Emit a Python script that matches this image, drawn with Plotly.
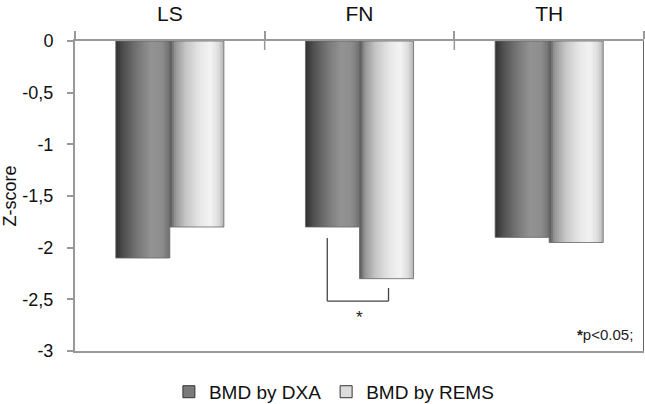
import plotly.graph_objects as go

# ---- data ----
categories = ["LS", "FN", "TH"]
dxa_values = [-2.10, -1.80, -1.90]
rems_values = [-1.80, -2.30, -1.95]
series_names = ["BMD by DXA", "BMD by REMS"]
y_tickvals = [0, -0.5, -1, -1.5, -2, -2.5, -3]
y_ticktext = ["0", "-0,5", "-1", "-1,5", "-2", "-2,5", "-3"]

# ---- styling helpers ----
BAR_W = 0.285
N_SLICES = 27

dxa_stops = [(0.0, 0x30), (0.15, 0x50), (0.4, 0x76), (0.65, 0x93), (0.85, 0x8e), (1.0, 0x70)]
rems_stops = [(0.0, 0x55), (0.1, 0x96), (0.3, 0xc6), (0.55, 0xe6), (0.75, 0xf3), (0.9, 0xdc), (1.0, 0xb2)]


def grey_at(stops, t):
    for (t0, v0), (t1, v1) in zip(stops[:-1], stops[1:]):
        if t0 <= t <= t1:
            v = v0 + (v1 - v0) * (t - t0) / (t1 - t0)
            v = int(round(v))
            return f"rgb({v},{v},{v})"
    v = stops[-1][1]
    return f"rgb({v},{v},{v})"


fig = go.Figure()

for values, stops, start in [(dxa_values, dxa_stops, -BAR_W), (rems_values, rems_stops, 0.0)]:
    sw = BAR_W / N_SLICES
    for i in range(N_SLICES):
        t = (i + 0.5) / N_SLICES
        w = sw * 1.6 if i < N_SLICES - 1 else sw
        fig.add_trace(go.Bar(
            x=categories, y=values,
            offset=start + i * sw, width=w,
            marker=dict(color=grey_at(stops, t), line=dict(width=0)),
            showlegend=False, hoverinfo="skip",
        ))
    # outline
    fig.add_trace(go.Bar(
        x=categories, y=values, offset=start, width=BAR_W,
        marker=dict(color="rgba(0,0,0,0)", line=dict(color="#666", width=0.8)),
        showlegend=False, hoverinfo="skip",
    ))

# legend-only traces
for name, col in zip(series_names, ["#7a7a7a", "#dcdcdc"]):
    fig.add_trace(go.Bar(
        x=[categories[0]], y=[None], name=name,
        marker=dict(color=col, line=dict(color="#333", width=1)),
    ))

# significance bracket (FN)
br_left, br_right = 0.83, 1.153
br_top_l, br_top_r, br_bottom = -1.907, -2.39, -2.517
line_style = dict(color="#444", width=1.3)
fig.add_shape(type="line", x0=br_left, x1=br_left, y0=br_top_l, y1=br_bottom, line=line_style)
fig.add_shape(type="line", x0=br_left, x1=br_right, y0=br_bottom, y1=br_bottom, line=line_style)
fig.add_shape(type="line", x0=br_right, x1=br_right, y0=br_bottom, y1=br_top_r, line=line_style)

# crossing parts of top category ticks
for xb in [0.5, 1.5]:
    fig.add_shape(type="line", xref="x", yref="y", x0=xb, x1=xb,
                  ysizemode="pixel", yanchor=0, y0=-9, y1=0,
                  line=dict(color="#999", width=1.5))
# right border
fig.add_shape(type="line", x0=2.5, x1=2.5, y0=0, y1=-3, line=dict(color="#666", width=2))

fig.add_annotation(x=1, y=-2.68, text="*", showarrow=False,
                   font=dict(size=17, color="#222"))
fig.add_annotation(xref="paper", yref="paper", x=0.985, y=0.02, xanchor="right",
                   text="<b>*</b>p<0.05;", showarrow=False,
                   font=dict(size=15, color="#222"))

fig.update_layout(
    width=645, height=404,
    margin=dict(l=75, r=1, t=41, b=53),
    paper_bgcolor="white", plot_bgcolor="white",
    barmode="overlay",
    font=dict(family="Liberation Sans, Arial, sans-serif", color="#111"),
    showlegend=True,
    legend=dict(orientation="h", x=0.455, xanchor="center",
                yref="container", y=0.03, yanchor="middle",
                font=dict(size=19, color="#111"), traceorder="normal",
                itemwidth=30, bgcolor="rgba(0,0,0,0)"),
    xaxis=dict(
        type="category", side="top", range=[-0.5, 2.5],
        showline=True, mirror=True, linecolor="#999", linewidth=2,
        ticks="outside", tickson="boundaries", ticklen=8, tickcolor="#999", tickwidth=1.5,
        tickfont=dict(size=21, color="#111"), showgrid=False, ticklabelstandoff=10,
    ),
    yaxis=dict(
        range=[-3, 0], tickvals=y_tickvals, ticktext=y_ticktext,
        showline=True, linecolor="#999", linewidth=2,
        ticks="outside", ticklen=6, tickcolor="#999", tickwidth=1.5,
        tickfont=dict(size=18, color="#111"), showgrid=False, zeroline=False,
        ticklabelstandoff=10,
        title=dict(text="Z-score", font=dict(size=18, color="#111"), standoff=2),
    ),
)

fig.write_html("out.html", post_script="document.body.style.margin='0';",
               config={"displayModeBar": False})
